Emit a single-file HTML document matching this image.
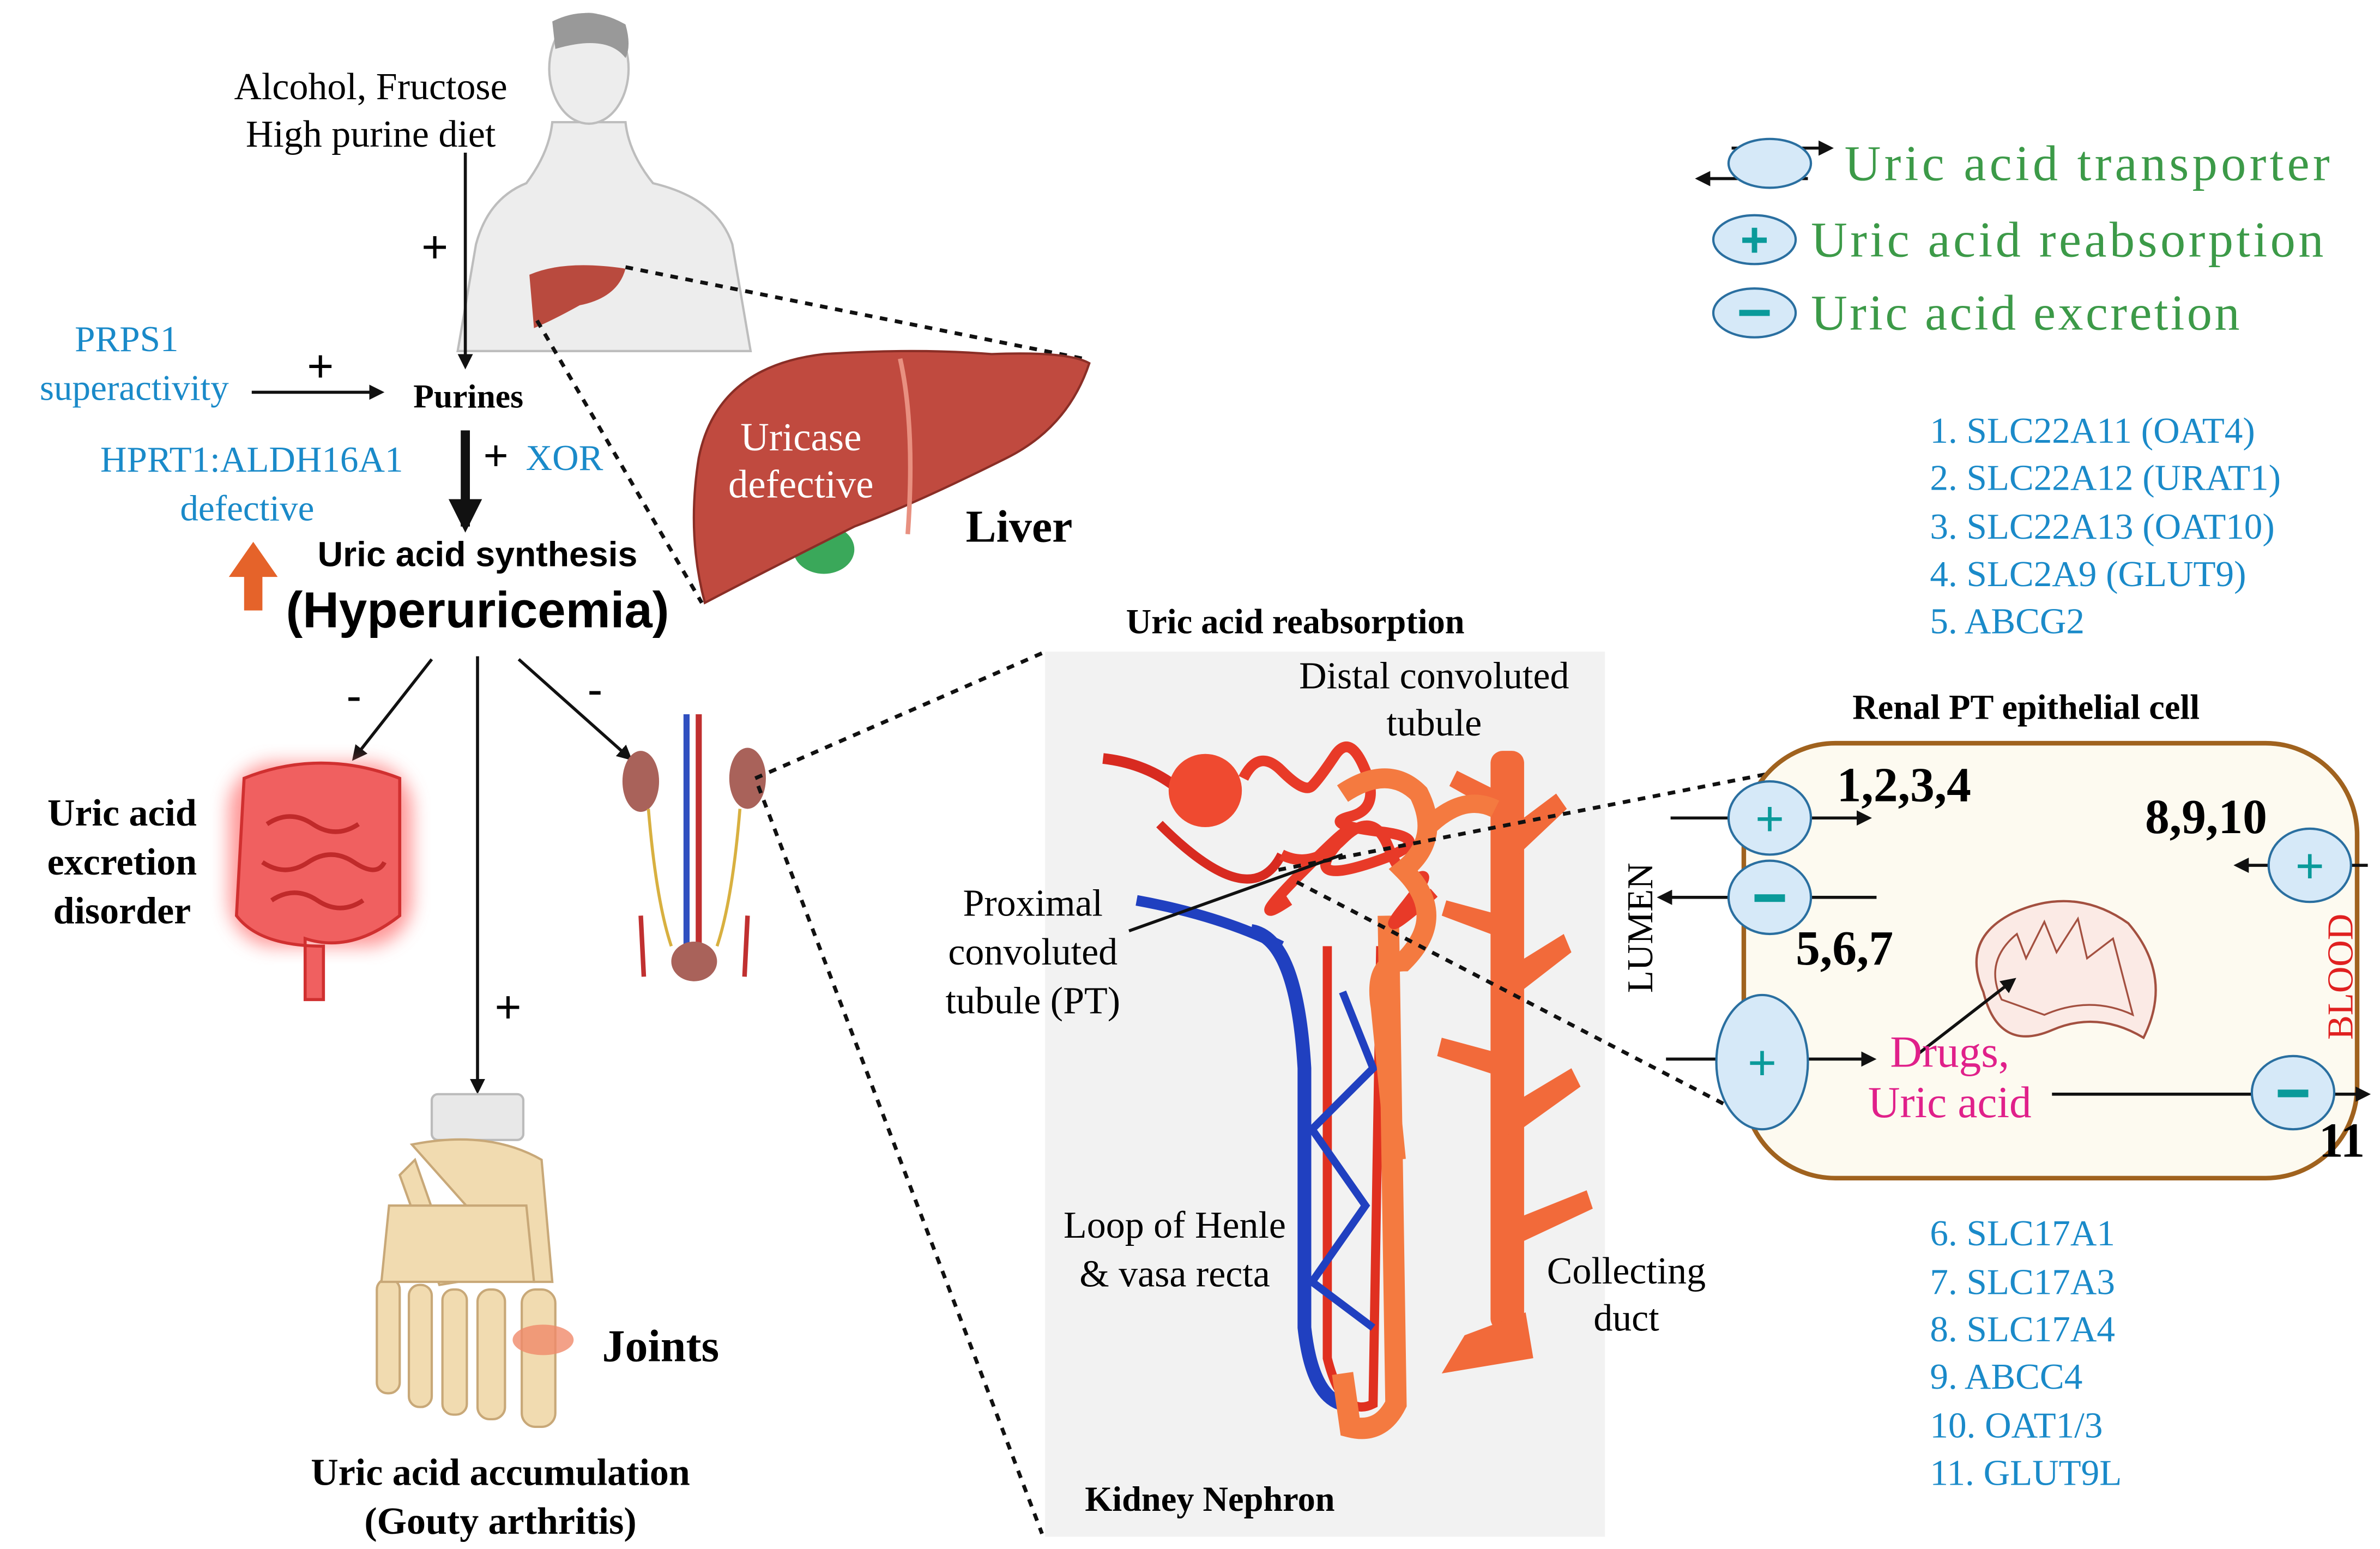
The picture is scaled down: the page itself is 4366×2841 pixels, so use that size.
<!DOCTYPE html>
<html><head><meta charset="utf-8"><style>
html,body{margin:0;padding:0;background:#fff;}
svg{display:block;}
text{font-family:"Liberation Serif",serif;}
.s{font-family:"Liberation Sans",sans-serif;}
.b{fill:#1a8ac9;font-size:24px;}
.g{fill:#3c9a48;font-size:33px;}
</style></head><body>
<svg width="4366" height="2841" viewBox="0 0 1560 1015" xmlns="http://www.w3.org/2000/svg">
<defs>
<marker id="ah" markerWidth="10" markerHeight="10" refX="8" refY="5" orient="auto" markerUnits="userSpaceOnUse"><path d="M0,0 L10,5 L0,10 z" fill="#111"/></marker>
<marker id="ahb" markerWidth="22" markerHeight="22" refX="18" refY="11" orient="auto" markerUnits="userSpaceOnUse"><path d="M0,0 L22,11 L0,22 z" fill="#111"/></marker>
<filter id="glow"><feGaussianBlur stdDeviation="6"/></filter>
</defs>
<rect width="1560" height="1015" fill="#fff"/>

<!-- human body -->
<g fill="#ededed" stroke="#bdbdbd" stroke-width="1.5">
<path d="M345,120 Q360,100 362,80 L410,80 Q412,100 428,120 Q470,130 480,160 L492,230 L300,230 L312,160 Q320,130 345,120 z"/>
<ellipse cx="386" cy="45" rx="26" ry="36"/>
</g>
<path d="M362,14 Q386,2 410,16 Q414,30 410,38 Q398,22 364,32 Z" fill="#999"/>
<path d="M347,180 Q370,170 410,176 Q405,195 380,200 Q362,210 350,215 Z" fill="#b94a3e"/>
<path d="M410,175 L710,235" stroke="#111" stroke-width="2.5" stroke-dasharray="5,5"/>
<path d="M352,210 L460,395" stroke="#111" stroke-width="2.5" stroke-dasharray="5,5"/>

<text x="243" y="65" font-size="25" text-anchor="middle">Alcohol, Fructose</text>
<text x="243" y="96" font-size="25" text-anchor="middle">High purine diet</text>
<line x1="305" y1="100" x2="305" y2="240" stroke="#111" stroke-width="2" marker-end="url(#ah)"/>
<text x="285" y="172" font-size="30" text-anchor="middle" class="s">+</text>

<text x="83" y="230" class="b" text-anchor="middle">PRPS1</text>
<text x="88" y="262" class="b" text-anchor="middle">superactivity</text>
<line x1="165" y1="257" x2="250" y2="257" stroke="#111" stroke-width="2" marker-end="url(#ah)"/>
<text x="210" y="250" font-size="30" text-anchor="middle" class="s">+</text>
<text x="307" y="267" font-size="22" font-weight="bold" text-anchor="middle">Purines</text>
<text x="165" y="309" class="b" text-anchor="middle">HPRT1:ALDH16A1</text>
<text x="162" y="341" class="b" text-anchor="middle">defective</text>
<text x="325" y="308" font-size="28" text-anchor="middle" class="s">+</text>
<text x="370" y="308" class="b" text-anchor="middle">XOR</text>
<line x1="305" y1="282" x2="305" y2="345" stroke="#111" stroke-width="6" marker-end="url(#ahb)"/>
<text x="313" y="371" font-size="23" font-weight="bold" text-anchor="middle" class="s">Uric acid synthesis</text>
<text x="313" y="411" font-size="33" font-weight="bold" text-anchor="middle" class="s">(Hyperuricemia)</text>
<path d="M160,400 L160,378 L150,378 L166,355 L182,378 L172,378 L172,400 Z" fill="#e5632a"/>

<ellipse cx="540" cy="360" rx="20" ry="16" fill="#3aa85a"/>
<path d="M458,300 Q470,240 540,232 Q600,228 650,232 Q700,230 714,238 Q700,280 660,300 Q600,330 560,345 Q500,375 462,395 Q450,350 458,300 Z" fill="#c04a3f" stroke="#8a2e26" stroke-width="1.5"/>
<path d="M590,235 Q600,280 595,350" stroke="#e89080" stroke-width="3" fill="none"/>
<text x="525" y="295" font-size="26" fill="#fff" text-anchor="middle">Uricase</text>
<text x="525" y="326" font-size="26" fill="#fff" text-anchor="middle">defective</text>
<text x="668" y="355" font-size="30" font-weight="bold" text-anchor="middle">Liver</text>

<line x1="283" y1="432" x2="232" y2="497" stroke="#111" stroke-width="2" marker-end="url(#ah)"/>
<text x="232" y="466" font-size="30" text-anchor="middle" class="s">-</text>
<line x1="313" y1="430" x2="313" y2="715" stroke="#111" stroke-width="2" marker-end="url(#ah)"/>
<text x="333" y="670" font-size="30" text-anchor="middle" class="s">+</text>
<line x1="340" y1="432" x2="413" y2="497" stroke="#111" stroke-width="2" marker-end="url(#ah)"/>
<text x="390" y="462" font-size="30" text-anchor="middle" class="s">-</text>

<g>
<rect x="150" y="500" width="120" height="120" rx="30" fill="#ff6b6b" filter="url(#glow)" opacity="0.7"/>
<path d="M160,510 Q210,490 262,510 L262,600 Q230,625 200,615 L200,655 L212,655 L212,620 Q170,620 155,600 Z" fill="#f06060" stroke="#d03030" stroke-width="2"/>
<path d="M175,540 q15,-10 30,0 t30,0 M172,565 q15,10 30,0 t30,0 t20,0 M178,590 q15,-10 30,0 t30,0" stroke="#c02a2a" stroke-width="3" fill="none"/>
</g>
<text x="80" y="541" font-size="25" font-weight="bold" text-anchor="middle">Uric acid</text>
<text x="80" y="573" font-size="25" font-weight="bold" text-anchor="middle">excretion</text>
<text x="80" y="605" font-size="25" font-weight="bold" text-anchor="middle">disorder</text>

<ellipse cx="420" cy="512" rx="12" ry="20" fill="#a9625a"/>
<ellipse cx="490" cy="510" rx="12" ry="20" fill="#a9625a"/>
<line x1="450" y1="468" x2="450" y2="640" stroke="#3050c0" stroke-width="4"/>
<line x1="458" y1="468" x2="458" y2="640" stroke="#c03030" stroke-width="4"/>
<path d="M425,530 Q430,590 440,620 M485,530 Q480,590 470,620" stroke="#d8b040" stroke-width="2" fill="none"/>
<path d="M420,600 L422,640 M490,600 L488,640" stroke="#c03030" stroke-width="3"/>
<ellipse cx="455" cy="630" rx="15" ry="13" fill="#a9625a"/>
<path d="M495,510 L683,428" stroke="#111" stroke-width="2.5" stroke-dasharray="5,5"/>
<path d="M497,515 L683,1005" stroke="#111" stroke-width="2.5" stroke-dasharray="5,5"/>

<!-- foot -->
<g fill="#f1dbb0" stroke="#c8a878" stroke-width="1.5">
<rect x="283" y="717" width="60" height="30" rx="4" fill="#e8e8e8" stroke="#bbb"/>
<path d="M270,750 Q320,740 355,760 L362,840 L350,840 Z"/>
<path d="M262,770 L272,760 L300,840 L288,842 Z"/>
<rect x="342" y="845" width="22" height="90" rx="9"/>
<rect x="313" y="845" width="18" height="85" rx="8"/>
<rect x="290" y="845" width="16" height="82" rx="7"/>
<rect x="268" y="842" width="15" height="80" rx="7"/>
<rect x="247" y="838" width="15" height="75" rx="7"/>
<path d="M255,790 L345,790 L350,840 L250,840 Z"/>
</g>
<ellipse cx="356" cy="878" rx="20" ry="10" fill="#f08a6a" opacity="0.8"/>
<text x="433" y="892" font-size="30" font-weight="bold" text-anchor="middle">Joints</text>
<text x="328" y="973" font-size="25" font-weight="bold" text-anchor="middle">Uric acid accumulation</text>
<text x="328" y="1005" font-size="25" font-weight="bold" text-anchor="middle">(Gouty arthritis)</text>

<rect x="685" y="427" width="367" height="580" fill="#f2f2f2"/>
<text x="849" y="415" font-size="23" font-weight="bold" text-anchor="middle">Uric acid reabsorption</text>
<text x="793" y="990" font-size="23" font-weight="bold" text-anchor="middle">Kidney Nephron</text>
<g fill="#f26a3a">
<rect x="977" y="492" width="22" height="380" rx="8"/>
<path d="M960,875 L1000,860 L1005,890 L945,900 Z"/>
<path d="M980,550 L1020,520 L1027,530 L990,565 Z M980,640 L1025,612 L1030,624 L990,655 Z M980,730 L1030,700 L1036,712 L990,745 Z M990,800 L1040,780 L1044,792 L995,815 Z M985,520 L955,505 L950,515 L980,532 Z M985,600 L948,590 L945,600 L985,615 Z M982,690 L945,680 L942,692 L982,705 Z"/>
</g>
<path d="M820,610 Q850,615 855,700 L855,870 Q860,915 880,920" stroke="#2040c0" stroke-width="9" fill="none"/>
<path d="M745,590 Q800,600 840,620" stroke="#2040c0" stroke-width="7" fill="none"/>
<path d="M870,620 L870,890 Q880,930 900,920 L905,620" stroke="#e03020" stroke-width="6" fill="none"/>
<path d="M880,650 L900,700 L860,740 L895,790 L860,840 L900,870" stroke="#2040c0" stroke-width="5" fill="none"/>
<path d="M910,600 L915,920 Q905,940 885,935 L880,900" stroke="#f47a40" stroke-width="14" fill="none"/>
<path d="M723,497 Q750,500 770,515" stroke="#d82a20" stroke-width="7" fill="none"/>
<path d="M760,540 Q820,600 840,560" stroke="#d82a20" stroke-width="6" fill="none"/>
<circle cx="790" cy="518" r="24" fill="#ef4a30"/>
<g stroke="#e83a28" stroke-width="7" fill="none">
<path d="M815,510 q10,-20 25,-5 t20,10 t15,-20 t20,10 t-10,30 t20,10 t-5,20 t-25,-10 t-20,15 t-10,20"/>
<path d="M840,560 q20,10 40,-10 t30,5 t20,20 t-10,20 t20,-10"/>
</g>
<path d="M880,520 q30,-20 50,0 q15,30 -10,50 q30,30 0,60 q-20,0 -15,30 L915,760" stroke="#f47a40" stroke-width="13" fill="none"/>
<path d="M938,540 Q960,520 980,530" stroke="#f47a40" stroke-width="12" fill="none"/>
<path d="M740,610 L880,560" stroke="#111" stroke-width="2"/>
<path d="M838,570 L1195,500" stroke="#111" stroke-width="2.5" stroke-dasharray="5,5"/>
<path d="M850,578 L1210,765" stroke="#111" stroke-width="2.5" stroke-dasharray="5,5"/>
<text x="940" y="451" font-size="25" text-anchor="middle">Distal convoluted</text>
<text x="940" y="482" font-size="25" text-anchor="middle">tubule</text>
<text x="677" y="600" font-size="25" text-anchor="middle">Proximal</text>
<text x="677" y="632" font-size="25" text-anchor="middle">convoluted</text>
<text x="677" y="664" font-size="25" text-anchor="middle">tubule (PT)</text>
<text x="770" y="811" font-size="25" text-anchor="middle">Loop of Henle</text>
<text x="770" y="843" font-size="25" text-anchor="middle">&amp; vasa recta</text>
<text x="1066" y="841" font-size="25" text-anchor="middle">Collecting</text>
<text x="1066" y="872" font-size="25" text-anchor="middle">duct</text>

<!-- legend -->
<line x1="1135" y1="97" x2="1200" y2="97" stroke="#111" stroke-width="2" marker-end="url(#ah)"/>
<line x1="1185" y1="117" x2="1113" y2="117" stroke="#111" stroke-width="2" marker-end="url(#ah)"/>
<ellipse cx="1160" cy="107" rx="27" ry="16" fill="#d6e9f8" stroke="#2a6fa0" stroke-width="1.5"/>
<text x="1209" y="118" class="g" textLength="318">Uric acid transporter</text>
<ellipse cx="1150" cy="157" rx="27" ry="16" fill="#d6e9f8" stroke="#2a6fa0" stroke-width="1.5"/>
<text x="1150" y="168" font-size="32" fill="#0a9a9a" text-anchor="middle" font-weight="bold" class="s">+</text>
<text x="1187" y="168" class="g" textLength="336">Uric acid reabsorption</text>
<ellipse cx="1150" cy="205" rx="27" ry="16" fill="#d6e9f8" stroke="#2a6fa0" stroke-width="1.5"/>
<rect x="1140" y="203" width="20" height="4" fill="#0a9a9a"/>
<text x="1187" y="216" class="g" textLength="281">Uric acid excretion</text>

<g class="b">
<text x="1265" y="290">1.  SLC22A11 (OAT4)</text>
<text x="1265" y="321">2.  SLC22A12 (URAT1)</text>
<text x="1265" y="353">3.  SLC22A13 (OAT10)</text>
<text x="1265" y="384">4.  SLC2A9 (GLUT9)</text>
<text x="1265" y="415">5.  ABCG2</text>
<text x="1265" y="816">6. SLC17A1</text>
<text x="1265" y="848">7. SLC17A3</text>
<text x="1265" y="879">8. SLC17A4</text>
<text x="1265" y="910">9. ABCC4</text>
<text x="1265" y="942">10. OAT1/3</text>
<text x="1265" y="973">11. GLUT9L</text>
</g>

<text x="1328" y="471" font-size="23" font-weight="bold" text-anchor="middle">Renal PT epithelial cell</text>
<rect x="1143" y="487" width="402" height="285" rx="60" fill="#fdfaf0" stroke="#a0621e" stroke-width="3"/>
<path d="M1300,650 Q1285,615 1320,598 Q1360,580 1395,605 Q1425,640 1405,680 Q1375,662 1345,675 Q1310,690 1300,650 Z" fill="#fbeae5" stroke="#a35040" stroke-width="1.5"/>
<path d="M1312,655 Q1300,630 1322,612 L1328,628 L1340,604 L1348,624 L1362,602 L1368,628 L1385,615 L1398,665 Q1370,652 1340,665 Z" fill="none" stroke="#a35040" stroke-width="1.2"/>
<line x1="1258" y1="690" x2="1320" y2="642" stroke="#111" stroke-width="2" marker-end="url(#ah)"/>
<text x="1083" y="608" font-size="24" text-anchor="middle" transform="rotate(-90 1083 608)">LUMEN</text>
<text x="1542" y="640" font-size="24" fill="#e02020" text-anchor="middle" transform="rotate(-90 1542 640)">BLOOD</text>
<g stroke="#111" stroke-width="2">
<line x1="1095" y1="536" x2="1225" y2="536" marker-end="url(#ah)"/>
<line x1="1230" y1="588" x2="1088" y2="588" marker-end="url(#ah)"/>
<line x1="1092" y1="694" x2="1228" y2="694" marker-end="url(#ah)"/>
<line x1="1552" y1="567" x2="1466" y2="567" marker-end="url(#ah)"/>
<line x1="1345" y1="717" x2="1552" y2="717" marker-end="url(#ah)"/>
</g>
<g fill="#d6e9f8" stroke="#2a6fa0" stroke-width="1.5">
<ellipse cx="1160" cy="536" rx="27" ry="24"/>
<ellipse cx="1160" cy="588" rx="27" ry="24"/>
<ellipse cx="1155" cy="696" rx="30" ry="44"/>
<ellipse cx="1514" cy="567" rx="27" ry="24"/>
<ellipse cx="1503" cy="716" rx="27" ry="24"/>
</g>
<g font-size="34" fill="#0a9a9a" text-anchor="middle" font-weight="bold" class="s">
<text x="1160" y="548">+</text>
<text x="1155" y="708">+</text>
<text x="1514" y="579">+</text>
</g>
<rect x="1150" y="586" width="20" height="5" fill="#0a9a9a"/>
<rect x="1493" y="714" width="20" height="5" fill="#0a9a9a"/>
<g font-size="32" font-weight="bold" text-anchor="middle">
<text x="1248" y="525">1,2,3,4</text>
<text x="1446" y="546">8,9,10</text>
<text x="1209" y="632">5,6,7</text>
<text x="1535" y="758">11</text>
</g>
<text x="1278" y="699" font-size="29" fill="#e0208a" text-anchor="middle">Drugs,</text>
<text x="1278" y="732" font-size="29" fill="#e0208a" text-anchor="middle">Uric acid</text>
</svg>
</body></html>
